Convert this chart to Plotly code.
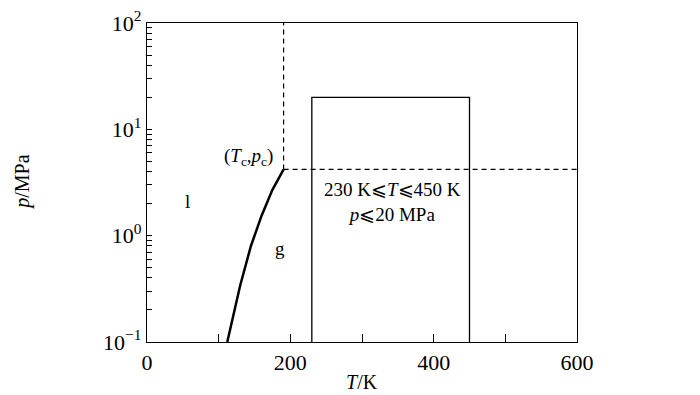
import plotly.graph_objects as go

# Saturation curve
curve_T = [112, 130, 145, 160, 175, 190.6]
curve_p = [0.1, 0.34, 0.80, 1.55, 2.7, 4.2]

Tc = 190.6
pc = 4.2

box_T = [230, 450]
box_p = [0.1, 20]

x_ticks = [0, 100, 200, 300, 400, 500, 600]
x_ticktext = ["0", "", "200", "", "400", "", "600"]

y_major = [0.1, 1, 10, 100]
y_major_text = ["10<sup>−1</sup>", "10<sup>0</sup>", "10<sup>1</sup>", "10<sup>2</sup>"]

font = "Liberation Serif, Times New Roman, serif"

yvals, ytext = [], []
for d in [0.1, 1, 10]:
    for m in range(1, 10):
        v = round(d * m, 6)
        yvals.append(v)
        ytext.append(y_major_text[y_major.index(d)] if m == 1 else "")
yvals.append(100)
ytext.append(y_major_text[3])

fig = go.Figure()

fig.add_trace(go.Scatter(x=curve_T, y=curve_p, mode="lines",
                         line=dict(color="black", width=2.5), showlegend=False))
# dashed lines from the critical point
fig.add_trace(go.Scatter(x=[Tc, Tc], y=[pc, 100], mode="lines",
                         line=dict(color="black", width=1.2, dash="5px,4px"), showlegend=False))
fig.add_trace(go.Scatter(x=[Tc, 600], y=[pc, pc], mode="lines",
                         line=dict(color="black", width=1.2, dash="5px,4px"), showlegend=False))
# box
fig.add_trace(go.Scatter(x=[box_T[0], box_T[0], box_T[1], box_T[1]],
                         y=[box_p[0], box_p[1], box_p[1], box_p[0]], mode="lines",
                         line=dict(color="black", width=1.3), showlegend=False))

ann = [
    dict(x=142, y=0.74, text="(<i>T</i><sub>c</sub>,<i>p</i><sub>c</sub>)", size=19),
    dict(x=57, y=0.326, text="l", size=19),
    dict(x=185.6, y=-0.116, text="g", size=19),
    dict(x=342, y=0.312, text="230 K⩽<i>T</i>⩽450 K<br><i>p</i>⩽20 MPa", size=19),
]
for a in ann:
    fig.add_annotation(x=a["x"], y=a["y"], xref="x", yref="y", text=a["text"],
                       showarrow=False, font=dict(family=font, size=a["size"], color="black"))

fig.add_annotation(x=0.5, y=-0.125, xref="paper", yref="paper", yanchor="middle",
                   text="<i>T</i>/K", showarrow=False,
                   font=dict(family=font, size=20, color="black"))
fig.add_annotation(x=-0.29, y=0.5, xref="paper", yref="paper", xanchor="center",
                   text="<i>p</i>/MPa", showarrow=False, textangle=-90,
                   font=dict(family=font, size=20, color="black"))

fig.update_layout(
    width=700, height=395,
    margin=dict(l=139, r=131, t=15, b=61, autoexpand=False),
    paper_bgcolor="white", plot_bgcolor="white",
    font=dict(family=font, size=20, color="black"),
    xaxis=dict(range=[0, 600], tickvals=x_ticks, ticktext=x_ticktext,
               ticks="inside", ticklen=8, tickwidth=1, tickcolor="black",
               showline=True, linecolor="black", linewidth=1.3, mirror=True,
               showgrid=False, zeroline=False, tickfont=dict(size=22),
               automargin=False),
    yaxis=dict(type="log", range=[-1, 2], tickvals=yvals, ticktext=ytext,
               ticks="inside", ticklen=5, tickwidth=1, tickcolor="black",
               showline=True, linecolor="black", linewidth=1.3, mirror=True,
               showgrid=False, zeroline=False, tickfont=dict(size=22),
               ticklabeloverflow="allow", automargin=False),
)

fig.write_html("out.html")
